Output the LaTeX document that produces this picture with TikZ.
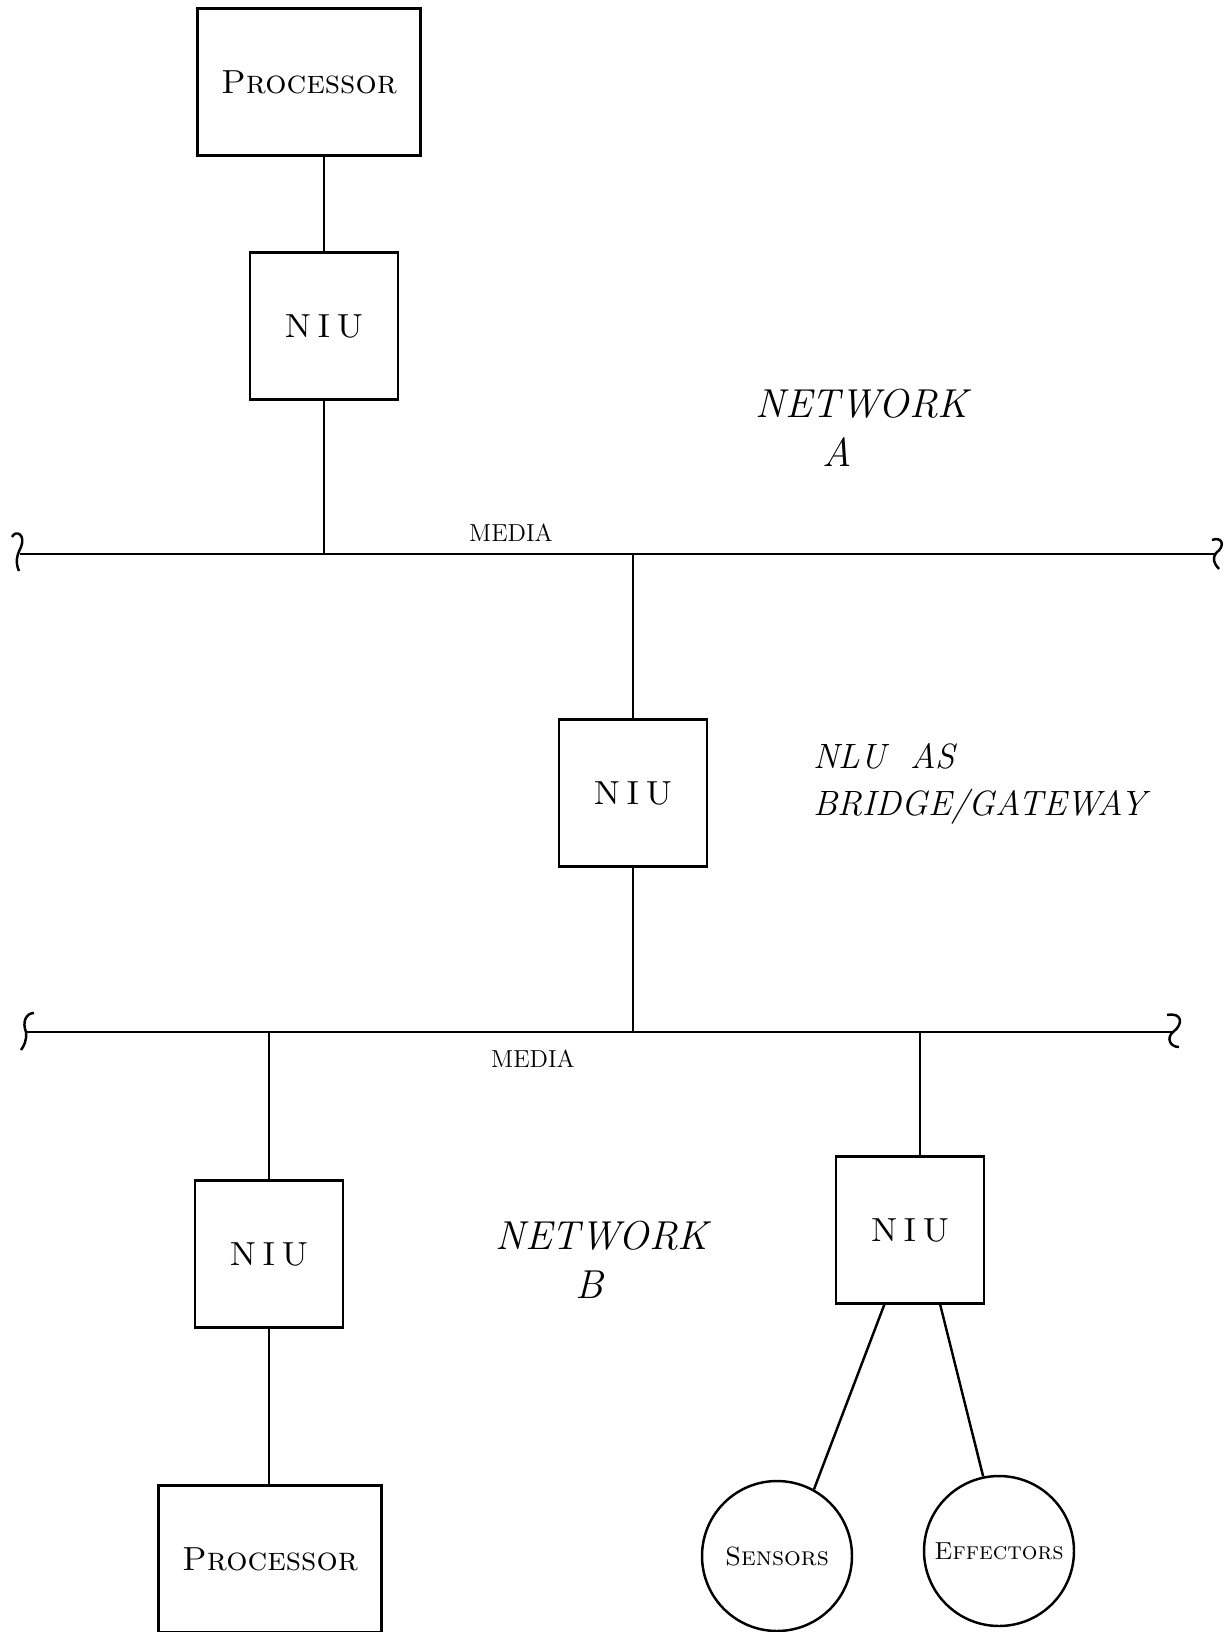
\documentclass[tikz,border=0pt]{standalone}
\usepackage{tikz}
\usetikzlibrary{positioning,shapes.geometric}

\begin{document}
\begin{tikzpicture}[
    x=0.02cm, y=-0.02cm,
    line width=1.4pt,
    unit/.style={draw, rectangle, minimum width=2.96cm, minimum height=2.94cm, inner sep=0pt, font=\fontsize{19}{22}\selectfont\scshape},
    proc/.style={unit, minimum width=4.46cm},
    dev/.style={draw, circle, minimum size=3cm, inner sep=0pt, font=\fontsize{15}{18}\selectfont\scshape},
    hand/.style={font=\fontsize{23}{28}\selectfont\itshape, align=center},
    medialbl/.style={font=\fontsize{14}{16}\selectfont}
]
    \useasboundingbox[fill=white] (0,0) rectangle (1230,1632);

    % Network A
    \node[proc] (procA) at (309,82) {Processor};
    \node[unit] (niuA) at (324,326) {N\,I\,U};
    \node[hand] (netA) at (862,428) {NETWORK\\A\hspace*{1.0cm}};

    % Media A
    \coordinate (mediaAl) at (20,554);
    \coordinate (mediaAr) at (1215,554);
    \coordinate (tapA1) at (324,554);
    \coordinate (tapA2) at (633,554);
    \draw (mediaAl) -- (mediaAr);
    \draw (12,537) .. controls (16,529) and (26,535) .. (21,547) .. controls (17,555) and (15,562) .. (19,571);
    \draw (1212,540) .. controls (1222,536) and (1226,546) .. (1216,553) .. controls (1212,558) and (1214,564) .. (1219,569);
    \node[medialbl] (mediaAtxt) at (511,533) {MEDIA};

    % Bridge
    \node[unit] (niuM) at (633,793) {N\,I\,U};
    \node[hand, font=\fontsize{20}{27}\selectfont\itshape, align=left, anchor=west] (bridge) at (806,784) {NLU\ \ AS\\BRIDGE/GATEWAY};

    % Media B
    \coordinate (mediaBl) at (27,1032);
    \coordinate (mediaBr) at (1172,1032);
    \coordinate (tapB1) at (633,1032);
    \coordinate (tapB2) at (269,1032);
    \coordinate (tapB3) at (920,1032);
    \draw (mediaBl) -- (mediaBr);
    \draw (34,1013) .. controls (26,1013) and (22,1022) .. (26,1032) .. controls (27,1040) and (24,1046) .. (21,1050);
    \draw (1167,1015) .. controls (1182,1012) and (1184,1024) .. (1173,1032) .. controls (1166,1038) and (1170,1047) .. (1179,1047);
    \node[medialbl] (mediaBtxt) at (533,1059) {MEDIA};

    % Network B
    \node[unit] (niuL) at (269,1254) {N\,I\,U};
    \node[proc] (procB) at (270,1559) {Processor};
    \node[unit] (niuR) at (910,1230) {N\,I\,U};
    \node[dev] (sens) at (777,1556) {Sensors};
    \node[dev, font=\fontsize{14}{17}\selectfont\scshape] (eff) at (999,1551) {Effectors};
    \node[hand] (netB) at (602,1260) {NETWORK\\B\hspace*{0.5cm}};

    % Connections
    \draw (procA.south -| niuA) -- (niuA);
    \draw (niuA) -- (tapA1);
    \draw (tapA2) -- (niuM);
    \draw (niuM) -- (tapB1);
    \draw (tapB2) -- (niuL);
    \draw (niuL) -- (procB.north -| niuL);
    \draw (tapB3) -- (tapB3 |- niuR.north);
    \draw (niuR.-109) -- (sens.61);
    \draw (niuR.-68) -- (eff.102);
\end{tikzpicture}
\end{document}
